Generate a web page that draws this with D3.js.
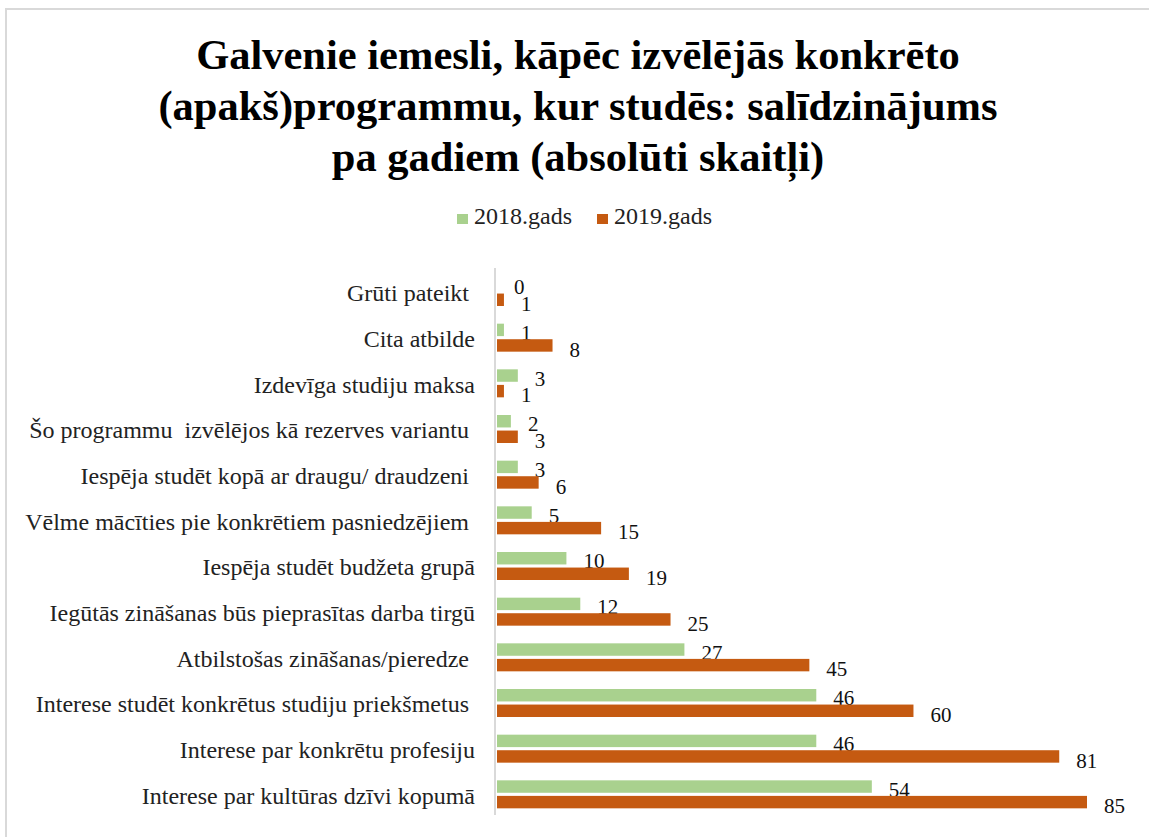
<!DOCTYPE html>
<html>
<head>
<meta charset="utf-8">
<script src="https://cdn.jsdelivr.net/npm/d3@7"></script>
<style>
  body { margin: 0; background: #fff; }
  text { font-family: "Liberation Serif", "Times New Roman", serif; white-space: pre; }
</style>
</head>
<body>
<script>
var width = 1149,
  height = 837;

// categories, top to bottom
var categories = [
  "Grūti pateikt ",
  "Cita atbilde",
  "Izdevīga studiju maksa",
  "Šo programmu  izvēlējos kā rezerves variantu ",
  "Iespēja studēt kopā ar draugu/ draudzeni ",
  "Vēlme mācīties pie konkrētiem pasniedzējiem ",
  "Iespēja studēt budžeta grupā",
  "Iegūtās zināšanas būs pieprasītas darba tirgū",
  "Atbilstošas zināšanas/pieredze ",
  "Interese studēt konkrētus studiju priekšmetus ",
  "Interese par konkrētu profesiju",
  "Interese par kultūras dzīvi kopumā"
];
var series = ["2018.gads", "2019.gads"];
var values2018 = [0, 1, 3, 2, 3, 5, 10, 12, 27, 46, 46, 54];
var values2019 = [1, 8, 1, 3, 6, 15, 19, 25, 45, 60, 81, 85];
var titleLines = [
  "Galvenie iemesli, kāpēc izvēlējās konkrēto",
  "(apakš)programmu, kur studēs: salīdzinājums",
  "pa gadiem (absolūti skaitļi)"
];
var colors = ["#a9d18e", "#c55a11"];

var svg = d3
  .select("body")
  .append("svg")
  .attr("width", width)
  .attr("height", height);

// frame
svg
  .append("path")
  .attr("d", "M6,837 V9 H1149")
  .attr("fill", "none")
  .attr("stroke", "#d9d9d9")
  .attr("stroke-width", 2);

// title
svg
  .append("g")
  .selectAll("text")
  .data(titleLines)
  .enter()
  .append("text")
  .attr("x", 578)
  .attr("y", function (d, i) {
    return 69 + i * 51;
  })
  .attr("text-anchor", "middle")
  .style("font-weight", "bold")
  .style("font-size", "42.5px")
  .text(function (d) {
    return d;
  });

// legend
var legend = svg
  .append("g")
  .selectAll("g")
  .data(series)
  .enter()
  .append("g")
  .attr("transform", function (d, i) {
    return "translate(" + (457 + i * 140) + ",224)";
  });
legend
  .append("rect")
  .attr("y", -10)
  .attr("width", 11)
  .attr("height", 10)
  .attr("fill", function (d, i) {
    return colors[i];
  });
legend
  .append("text")
  .attr("x", 17)
  .attr("y", 0)
  .style("font-size", "24px")
  .style("fill", "#222")
  .text(function (d) {
    return d;
  });

var x = d3.scaleLinear().domain([0, 85]).range([497, 1087]);
var y = d3.scaleBand().domain(categories).range([269, 817]);
var ySub = d3
  .scaleBand()
  .domain(series)
  .range([9, 37])
  .paddingInner(0.2);

var rows = categories.map(function (c, i) {
  return { cat: c, vals: [values2018[i], values2019[i]] };
});

var row = svg
  .append("g")
  .selectAll("g")
  .data(rows)
  .enter()
  .append("g")
  .attr("transform", function (d) {
    return "translate(0," + y(d.cat) + ")";
  });

// category labels
row
  .append("text")
  .attr("x", 475)
  .attr("y", 24)
  .attr("dy", "0.35em")
  .attr("text-anchor", "end")
  .style("font-size", "24px")
  .style("fill", "#222")
  .text(function (d) {
    return d.cat;
  });

var bars = row
  .selectAll("g.bar")
  .data(function (d) {
    return d.vals.map(function (v, j) {
      return { v: v, s: series[j], j: j };
    });
  })
  .enter()
  .append("g")
  .attr("class", "bar");

bars
  .append("rect")
  .attr("x", x(0))
  .attr("y", function (d) {
    return ySub(d.s);
  })
  .attr("width", function (d) {
    return x(d.v) - x(0);
  })
  .attr("height", ySub.bandwidth())
  .attr("fill", function (d) {
    return colors[d.j];
  });

bars
  .append("text")
  .attr("x", function (d) {
    return x(d.v) + 17;
  })
  .attr("y", function (d) {
    return ySub(d.s) + ySub.bandwidth() + (d.j ? 5 : 4);
  })
  .style("font-size", "21px")
  .style("fill", "#111")
  .text(function (d) {
    return d.v;
  });

// axis line
svg
  .append("line")
  .attr("x1", 495)
  .attr("x2", 495)
  .attr("y1", 268)
  .attr("y2", 815)
  .attr("stroke", "#d9d9d9")
  .attr("stroke-width", 2);
</script>
</body>
</html>
